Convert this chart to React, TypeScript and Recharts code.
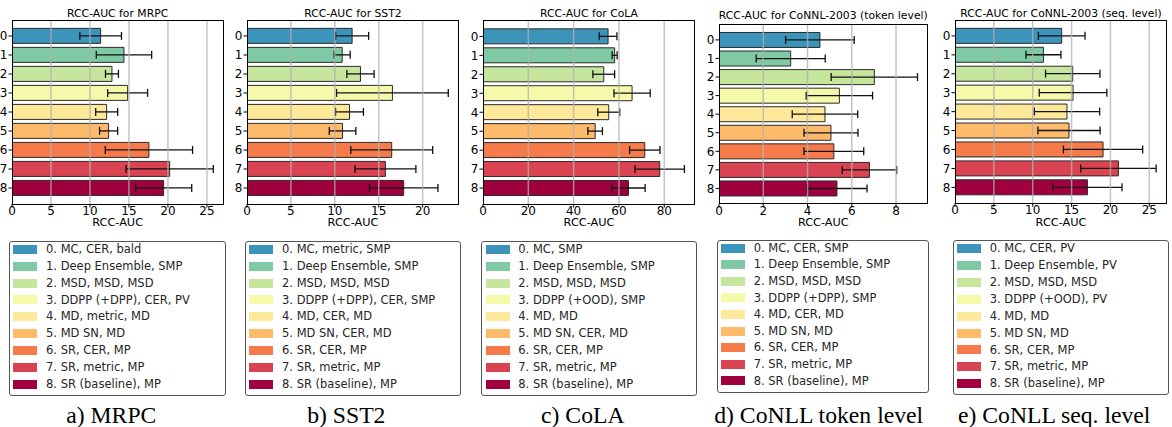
import React from 'react';
import { BarChart, Bar, XAxis, YAxis, Cell, ErrorBar, ReferenceLine } from 'recharts';

const CATEGORIES = ['0', '1', '2', '3', '4', '5', '6', '7', '8'];
const COLORS = ['#3d94bb', '#7fcaa5', '#c6e69d', '#f4faaa', '#fee89a', '#fdba6a', '#f67b4b', '#da4452', '#a0003e'];

const mrpcValues = [11.37, 14.36, 12.82, 14.83, 12.14, 12.39, 17.56, 20.22, 19.45];
const mrpcErrors = [2.67, 3.55, 0.83, 2.56, 1.41, 1.16, 5.6, 5.6, 3.6];
const sst2Values = [11.97, 10.84, 12.92, 16.56, 11.67, 10.88, 16.48, 15.76, 17.84];
const sst2Errors = [1.88, 0.91, 1.55, 6.36, 1.59, 1.51, 4.66, 3.47, 3.9];
const colaValues = [55.2, 58.1, 53.3, 65.8, 55.5, 49.5, 71.4, 78.0, 64.2];
const colaErrors = [3.9, 1.1, 4.8, 8.0, 4.85, 3.2, 6.7, 10.9, 7.35];
const conllTokValues = [4.56, 3.24, 7.02, 5.44, 4.79, 5.06, 5.19, 6.8, 5.33];
const conllTokErrors = [1.55, 1.56, 1.95, 1.5, 1.48, 1.22, 1.35, 1.23, 1.36];
const conllSeqValues = [13.73, 11.38, 15.15, 15.19, 14.41, 14.67, 19.05, 21.03, 17.04];
const conllSeqErrors = [3.0, 2.25, 3.5, 4.35, 4.2, 4.0, 5.1, 4.85, 4.45];

const ticks25 = [0, 5, 10, 15, 20, 25];
const ticks20 = [0, 5, 10, 15, 20];
const ticks80 = [0, 20, 40, 60, 80];
const ticks8 = [0, 2, 4, 6, 8];

const mrpcLegend = ['0. MC, CER, bald', '1. Deep Ensemble, SMP', '2. MSD, MSD, MSD', '3. DDPP (+DPP), CER, PV', '4. MD, metric, MD', '5. MD SN, MD', '6. SR, CER, MP', '7. SR, metric, MP', '8. SR (baseline), MP'];
const sst2Legend = ['0. MC, metric, SMP', '1. Deep Ensemble, SMP', '2. MSD, MSD, MSD', '3. DDPP (+DPP), CER, SMP', '4. MD, CER, MD', '5. MD SN, CER, MD', '6. SR, CER, MP', '7. SR, metric, MP', '8. SR (baseline), MP'];
const colaLegend = ['0. MC, SMP', '1. Deep Ensemble, SMP', '2. MSD, MSD, MSD', '3. DDPP (+OOD), SMP', '4. MD, MD', '5. MD SN, CER, MD', '6. SR, CER, MP', '7. SR, metric, MP', '8. SR (baseline), MP'];
const conllTokLegend = ['0. MC, CER, SMP', '1. Deep Ensemble, SMP', '2. MSD, MSD, MSD', '3. DDPP (+DPP), SMP', '4. MD, CER, MD', '5. MD SN, MD', '6. SR, CER, MP', '7. SR, metric, MP', '8. SR (baseline), MP'];
const conllSeqLegend = ['0. MC, CER, PV', '1. Deep Ensemble, PV', '2. MSD, MSD, MSD', '3. DDPP (+OOD), PV', '4. MD, MD', '5. MD SN, MD', '6. SR, CER, MP', '7. SR, metric, MP', '8. SR (baseline), MP'];

const FONT = '"DejaVu Sans", sans-serif';

type PanelCfg = {
  title: string; caption: string; values: number[]; errors: number[]; legend: string[];
  domain: [number, number]; ticks: number[];
  L: number; R: number; T: number; B: number; titleY: number;
  lgL: number; lgR: number; lgT: number; lgB: number; lgStep: number; capX: number;
};

const PANELS: PanelCfg[] = [
  { title: 'RCC-AUC for MRPC', caption: 'a) MRPC', values: mrpcValues, errors: mrpcErrors, legend: mrpcLegend, domain: [0, 27.1], ticks: ticks25,
    L: 12, R: 223.3, T: 20, B: 204, titleY: 14, lgL: 9, lgR: 225.7, lgT: 240.7, lgB: 395.7, lgStep: 16.9, capX: 111.3 },
  { title: 'RCC-AUC for SST2', caption: 'b) SST2', values: sst2Values, errors: sst2Errors, legend: sst2Legend, domain: [0, 24.07], ticks: ticks20,
    L: 247.3, R: 458.7, T: 20, B: 204, titleY: 14, lgL: 245, lgR: 461.3, lgT: 240.7, lgB: 395.7, lgStep: 16.9, capX: 346.3 },
  { title: 'RCC-AUC for CoLA', caption: 'c) CoLA', values: colaValues, errors: colaErrors, legend: colaLegend, domain: [0, 93.3], ticks: ticks80,
    L: 483.3, R: 694.7, T: 20.5, B: 204, titleY: 14, lgL: 481.3, lgR: 697.3, lgT: 240.7, lgB: 395.7, lgStep: 16.9, capX: 582.8 },
  { title: 'RCC-AUC for CoNNL-2003 (token level)', caption: 'd) CoNLL token level', values: conllTokValues, errors: conllTokErrors, legend: conllTokLegend, domain: [0, 9.4], ticks: ticks8,
    L: 719.3, R: 927.3, T: 24.3, B: 204, titleY: 16, lgL: 716.7, lgR: 929.3, lgT: 239.7, lgB: 393, lgStep: 16.6, capX: 818.7 },
  { title: 'RCC-AUC for CoNNL-2003 (seq. level)', caption: 'e) CoNLL seq. level', values: conllSeqValues, errors: conllSeqErrors, legend: conllSeqLegend, domain: [0, 27.2], ticks: ticks25,
    L: 955.3, R: 1166.7, T: 20, B: 203.3, titleY: 14, lgL: 952.7, lgR: 1169, lgT: 240, lgB: 395, lgStep: 16.9, capX: 1054.2 },
];

function Panel({ cfg }: { cfg: PanelCfg }) {
  const data = CATEGORIES.map((c, i) => ({ name: c, value: cfg.values[i], err: cfg.errors[i] }));
  const H = 235, xAxisH = 25, yAxisW = 30, mr = 5;
  const W = cfg.R - cfg.L + yAxisW + mr;
  const band = (cfg.B - cfg.T) / 9.68;
  const pad = 0.34 * band;
  const tickStyle = { fill: '#000', fontSize: 12, fontFamily: FONT };
  return (
    <>
      <div style={{ position: 'absolute', left: cfg.L - yAxisW, top: 0 }}>
        <BarChart width={W} height={H} data={data} layout="vertical"
          margin={{ top: cfg.T, right: mr, bottom: H - cfg.B - xAxisH, left: 0 }} barCategoryGap="10%">
          <XAxis type="number" domain={cfg.domain} ticks={cfg.ticks} allowDataOverflow height={xAxisH}
            tickSize={3.5} tickMargin={-1} tick={tickStyle} axisLine={false} tickLine={{ stroke: '#000' }} interval={0} />
          <YAxis type="category" dataKey="name" width={yAxisW} padding={{ top: pad, bottom: pad }}
            tickSize={3.5} tickMargin={1} tick={tickStyle} axisLine={false} tickLine={{ stroke: '#000' }} interval={0} />
          <Bar dataKey="value" isAnimationActive={false} stroke="#2a2a2a" strokeWidth={1}>
            {data.map((d, i) => <Cell key={d.name} fill={COLORS[i]} />)}
            <ErrorBar dataKey="err" direction="x" width={4} stroke="#111" strokeWidth={1.3} />
          </Bar>
          {cfg.ticks.slice(1).map(t => (
            <ReferenceLine key={t} x={t} stroke="#b0b0b0" strokeWidth={1.5} strokeOpacity={0.75} />
          ))}
        </BarChart>
      </div>
      <div style={{ position: 'absolute', left: cfg.L - 0.5, top: cfg.T - 0.5, width: cfg.R - cfg.L + 1, height: cfg.B - cfg.T + 1,
        border: '1px solid #000', boxSizing: 'border-box', pointerEvents: 'none' }} />
      <div style={{ position: 'absolute', left: cfg.L - 40, width: cfg.R - cfg.L + 80, top: cfg.titleY - 5.4, textAlign: 'center',
        fontFamily: FONT, fontSize: 10.8, lineHeight: '10.8px', color: '#000', whiteSpace: 'nowrap' }}>{cfg.title}</div>
      <div style={{ position: 'absolute', left: cfg.L, width: cfg.R - cfg.L, top: 217, textAlign: 'center',
        fontFamily: FONT, fontSize: 11.3, lineHeight: '11.3px', color: '#000' }}>RCC-AUC</div>
      <div style={{ position: 'absolute', left: cfg.lgL, top: cfg.lgT, width: cfg.lgR - cfg.lgL, height: cfg.lgB - cfg.lgT,
        border: '1px solid #555', borderRadius: 3, boxSizing: 'border-box', background: '#fff' }}>
        {cfg.legend.map((lab, i) => (
          <div key={lab} style={{ position: 'absolute', left: 0, top: 8.6 - 8.45 - 1 + i * cfg.lgStep, height: cfg.lgStep, width: '100%' }}>
            <div style={{ position: 'absolute', left: 3.3, top: (cfg.lgStep - 9) / 2, width: 24, height: 9, background: COLORS[i] }} />
            <div style={{ position: 'absolute', left: 36, top: 0, fontFamily: FONT, fontSize: 11.5, lineHeight: cfg.lgStep + 'px',
              color: '#262626', whiteSpace: 'nowrap' }}>{lab}</div>
          </div>
        ))}
      </div>
      <div style={{ position: 'absolute', left: cfg.capX - 150, width: 300, top: 403.5, textAlign: 'center',
        fontFamily: '"Liberation Serif", "Times New Roman", serif', fontSize: 23.7, lineHeight: '23.7px', color: '#000', whiteSpace: 'nowrap' }}>
        {cfg.caption}
      </div>
    </>
  );
}

export default function App() {
  return (
    <div style={{ position: 'absolute', left: 0, top: 0, width: 1172, height: 427, background: '#fff', overflow: 'hidden' }}>
      {PANELS.map(p => <Panel key={p.title} cfg={p} />)}
    </div>
  );
}
